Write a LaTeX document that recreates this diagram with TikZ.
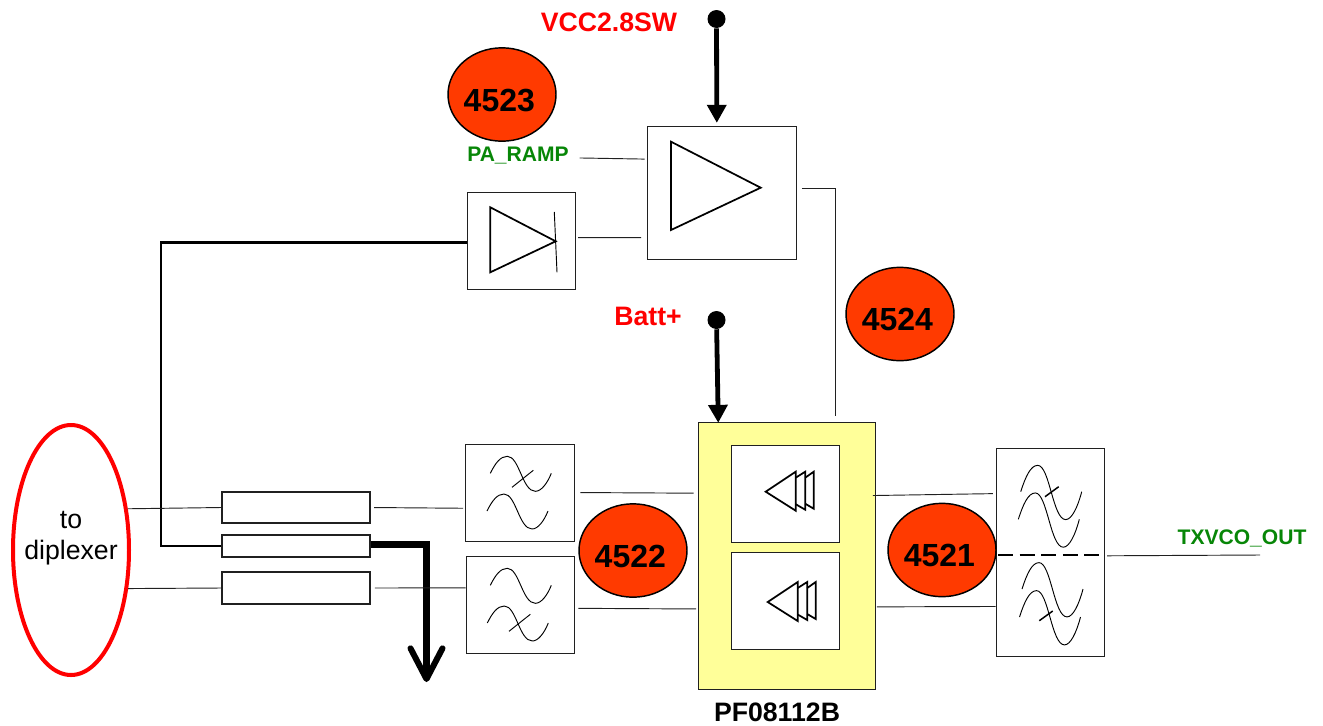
\documentclass[tikz,border=0pt]{standalone}
\usepackage{fontspec}
\setmainfont{Liberation Sans}
\usetikzlibrary{calc}
\usetikzlibrary{positioning}
\usetikzlibrary{arrows.meta}
\usetikzlibrary{shapes.geometric}
\definecolor{badgered}{HTML}{FF3A00}
\definecolor{netgreen}{HTML}{078607}
\definecolor{chipyellow}{HTML}{FFFF99}
\definecolor{wiregray}{HTML}{202020}

\begin{document}
\begin{tikzpicture}[
          x=0.75pt,
          y=-0.75pt,
          block/.style={
            draw=wiregray,
            line width=0.7pt,
            fill=white,
            inner sep=0pt,
            minimum width=#1},
          badge/.style={
            ellipse,
            draw,
            line width=1.1pt,
            fill=badgered,
            inner sep=0pt,
            minimum width=81pt,
            minimum height=70pt,
            text height=25.2pt,
            text depth=0pt,
            font=\fontsize{24}{28}\selectfont\bfseries,
            execute at begin node={\hspace*{-4pt}}},
          netname/.style={
            inner sep=0pt,
            text=netgreen,
            font=\fontsize{15.8}{18}\selectfont\bfseries},
          railname/.style={
            inner sep=0pt,
            text=red,
            font=\fontsize{20}{24}\selectfont\bfseries},
          raildot/.style={
            circle,
            fill=black,
            inner sep=0pt,
            minimum size=13.5pt},
          wire/.style={
            draw=wiregray,
            line width=0.7pt},
          supply/.style={
            line width=3.6pt,
            -{Triangle[length=13.5pt,width=14pt]}},
          glyph/.style={
            line width=1.3pt,
            line join=miter},
          wave/.pic={
            \draw[line width=0.7pt] (0,0) .. controls (5,-10) and (10,-17) .. (17,-17)
              .. controls (29,-17) and (32,18) .. (45,18)
              .. controls (51,18) and (57,10) .. (61,0);},
          stages/.pic={
            \draw[glyph] (0,0) -- (30,-20) -- (30,19) -- cycle;
            \draw[glyph] (30,-14) -- (39.5,-20) -- (39.5,18) -- (30,12.5);
            \draw[glyph] (39.5,-14) -- (48,-20) -- (48,17) -- (39.5,12);},
        ]
          \useasboundingbox (0,0) rectangle (1323,725);

          \node[railname] (vccname) at (609,22) {VCC2.8SW};
          \node[raildot] (vccdot) at (716.5,19) {};
          \node[railname] (battname) at (648,316) {Batt+};
          \node[raildot] (battdot) at (716.5,320) {};
          \node[netname] (paramp) at (518,156) {PA\_RAMP};
          \node[netname] (txvco) at (1242,538) {TXVCO\_OUT};
          \coordinate (txvcoend) at (1260,555);
          \coordinate (tapcorner) at (161,546);
          \coordinate (tapbend) at (427,544);

          \node[block=111.75pt, minimum height=99.75pt] (amp) at (721.5,192.5) {};
          \node[block=81pt, minimum height=72.75pt] (det) at (521,240.5) {};
          \node[block=81.75pt, minimum height=72.75pt] (fa) at (519.5,492.5) {};
          \node[block=81pt, minimum height=72.75pt] (fb) at (520,604.5) {};
          \node[block=132.75pt, minimum height=200.25pt, fill=chipyellow] (pf) at (786.5,555.5) {};
          \node[block=81pt, minimum height=72.75pt] (sa) at (785,493.5) {};
          \node[block=81pt, minimum height=72.75pt] (sb) at (785,600.5) {};
          \node[block=81pt, minimum height=156pt] (rf) at (1050,552) {};
          \node[block=111pt, minimum height=23.25pt, line width=1.2pt] (cpla) at (296,507.5) {};
          \node[block=111pt, minimum height=16.5pt, line width=1.2pt] (cplm) at (296,546) {};
          \node[block=111pt, minimum height=24pt, line width=1.2pt] (cplc) at (296,588) {};
          \node[ellipse, draw=red, line width=3pt, inner sep=0pt, minimum width=87pt, minimum height=187.5pt] (todip) at (71,550) {};
          \node[align=center, inner sep=0pt, font=\fontsize{20}{23}\selectfont] (todiptext) at (71,538) {to\\diplexer};
          \node[font=\fontsize{20}{24}\selectfont\bfseries, inner sep=0pt] (pfname) at (777,712) {PF08112B};

          \node[badge] (b4523) at (502,94.5) {4523};
          \node[badge] (b4524) at (900,314) {4524};
          \node[badge] (b4522) at (633,550.5) {4522};
          \node[badge] (b4521) at (942,550) {4521};

          \draw[supply, shorten >=2pt] (vccdot) -- (amp.94);
          \draw[supply, shorten >=-1pt] (battdot) -- (pf.117.7);
          \draw[wire, shorten <=8pt, shorten >=1.5pt] (paramp.-2) -- (amp.156);
          \draw[wire, shorten <=2pt, shorten >=4pt] (det.3) -- (amp.211);
          \draw[wire, shorten <=4pt, shorten >=4pt] (amp.3) -| (pf.70);
          \draw[line width=1.8pt] (det.182) -| (tapcorner) -- (cplm.west);
          \draw[line width=5.25pt, -{Straight Barb[length=23pt,width=24pt,line width=4.5pt,round]}] (cplm.east |- tapbend) -| (426.5,682);
          \draw[wire] (todip.36) -- (cpla.west);
          \draw[wire] (todip.-34) -- (cplc.west);
          \draw[wire, shorten <=2.5pt, shorten >=1pt] (cpla.east) -- (fa.196);
          \draw[wire, shorten <=3pt] (cplc.east) -- (fb.163);
          \draw[wire, shorten <=4.5pt, shorten >=3pt] (fa.east) -- (pf.145);
          \draw[wire, shorten <=3pt, shorten >=1pt] (fb.-4) -- (pf.211);
          \draw[wire, shorten <=-2pt, shorten >=2pt] (pf.34) -- (rf.133.5);
          \draw[wire, shorten <=1pt] (pf.-30) -- (rf.225.5);
          \draw[wire, shorten <=2pt] (rf.-4) -- (txvcoend);
          \draw[line width=1.4pt, dash pattern=on 11.25pt off 4.9pt, shorten <=2pt] (rf.183) -- (rf.-3);

          \draw[glyph] (671,141.7) -- (760.7,187.7) -- (671,230) -- cycle;
          \draw[glyph] (490.3,207.3) -- (555.7,241.3) -- (490.3,272.3) -- cycle;
          \draw[line width=0.7pt] (554.3,212) -- (557,272.3);

          \pic at (490.3,473.3) {wave};
          \pic at (487,511) {wave};
          \draw[line width=0.7pt] (512,487.3) -- (533.3,470.3);
          \pic at (490.3,585.3) {wave};
          \pic at (487.3,623) {wave};
          \draw[line width=0.7pt] (509,631.3) -- (530.3,614.3);
          \pic[yscale=1.55] at (1020.7,491.7) {wave};
          \pic[yscale=1.55] at (1018.3,519.3) {wave};
          \draw[line width=1.1pt] (1045,496.7) -- (1058.7,486.7);
          \pic[yscale=1.55] at (1022,589) {wave};
          \pic[yscale=1.55] at (1019.5,617) {wave};
          \draw[line width=1.1pt] (1039.3,620.7) -- (1052.7,611);

          \pic at (765.7,491.7) {stages};
          \pic at (767.7,602) {stages};
        \end{tikzpicture}
\end{document}
